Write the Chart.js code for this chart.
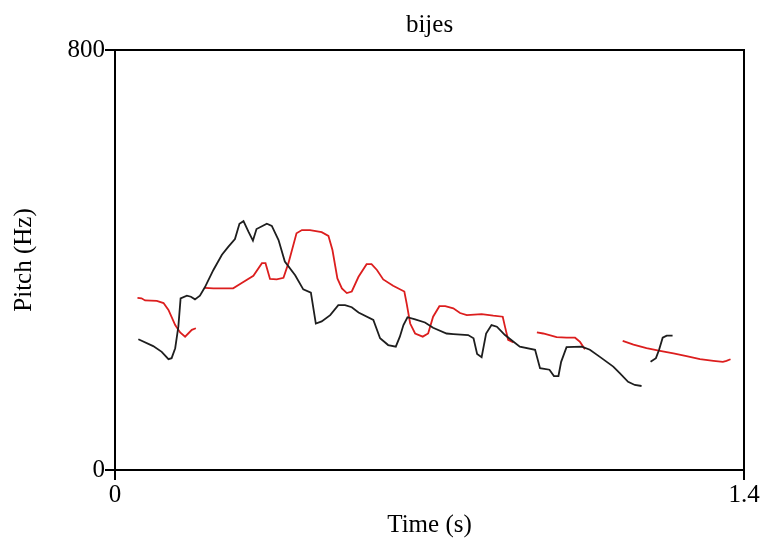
<!DOCTYPE html>
<html>
<head>
<meta charset="utf-8">
<script src="https://cdn.jsdelivr.net/npm/chart.js@4"></script>
<style>
  html, body { margin: 0; padding: 0; background: #fff; }
  #wrap { width: 766px; height: 543px; }
</style>
</head>
<body>
<div id="wrap"><canvas id="chart"></canvas></div>
<script>
// pitch tracks (time in s, pitch in Hz)
const blackTime1 = [0.052, 0.085, 0.104, 0.119, 0.126, 0.134, 0.141, 0.146, 0.160, 0.169, 0.178, 0.189, 0.200, 0.219, 0.238, 0.252, 0.267, 0.277, 0.286, 0.297, 0.307, 0.315, 0.338, 0.349, 0.364, 0.378, 0.401, 0.419, 0.436, 0.447, 0.460, 0.479, 0.497, 0.512, 0.527, 0.542, 0.575, 0.590, 0.608, 0.625, 0.634, 0.642, 0.651, 0.668, 0.690, 0.708, 0.738, 0.753, 0.786, 0.798, 0.806, 0.816, 0.826, 0.838, 0.850, 0.868, 0.901, 0.935, 0.946, 0.967, 0.977, 0.987, 0.993, 1.005, 1.039, 1.057, 1.080, 1.109, 1.124, 1.142, 1.157, 1.172];
const blackPitch1 = [249, 236, 225, 211, 213, 232, 273, 327, 332, 330, 325, 332, 348, 381, 410, 425, 440, 469, 474, 454, 437, 459, 469, 465, 438, 397, 371, 344, 338, 279, 283, 295, 314, 314, 310, 300, 286, 251, 238, 235, 254, 276, 291, 287, 281, 271, 260, 259, 257, 251, 221, 215, 260, 276, 273, 257, 235, 229, 194, 191, 179, 179, 206, 234, 235, 229, 215, 197, 184, 168, 162, 160];
const blackTime2 = [1.192, 1.204, 1.211, 1.219, 1.228, 1.241];
const blackPitch2 = [206, 213, 229, 252, 256, 256];

const redTime1 = [0.050, 0.059, 0.067, 0.093, 0.108, 0.119, 0.134, 0.145, 0.156, 0.171, 0.180];
const redPitch1 = [328, 327, 323, 322, 318, 305, 276, 262, 254, 267, 270];
const redTime2 = [0.200, 0.219, 0.263, 0.282, 0.308, 0.327, 0.335, 0.345, 0.360, 0.375, 0.386, 0.404, 0.416, 0.434, 0.460, 0.475, 0.484, 0.495, 0.505, 0.516, 0.527, 0.542, 0.560, 0.571, 0.583, 0.597, 0.619, 0.644, 0.649, 0.657, 0.668, 0.685, 0.697, 0.708, 0.722, 0.735, 0.753, 0.768, 0.783, 0.816, 0.842, 0.863, 0.868, 0.875, 0.887];
const redPitch2 = [347, 346, 346, 356, 370, 394, 394, 364, 363, 366, 394, 451, 457, 457, 453, 446, 419, 365, 346, 337, 340, 368, 392, 392, 381, 363, 351, 340, 318, 279, 260, 254, 260, 292, 312, 312, 308, 299, 295, 297, 294, 292, 273, 248, 243];
const redTime3 = [0.939, 0.953, 0.983, 1.005, 1.024, 1.035, 1.046];
const redPitch3 = [262, 260, 253, 252, 252, 244, 230];
const redTime4 = [1.130, 1.154, 1.183, 1.213, 1.243, 1.272, 1.302, 1.332, 1.353, 1.361, 1.370];
const redPitch4 = [246, 239, 232, 227, 222, 217, 211, 208, 206, 208, 211];

const xTicks = [0, 1.4];
const yTicks = [0, 800];

const serif = 'Liberation Serif';

function seg(times, pitches, color) {
    return {
        data: times.map((t, i) => ({ x: t, y: pitches[i] })),
        borderColor: color,
        borderWidth: 1.8,
        pointRadius: 0,
        showLine: true,
        tension: 0,
        fill: false
    };
}

// frame round the plot area
const frame = {
    id: 'frame',
    afterDatasetsDraw(chart) {
        const a = chart.chartArea;
        const c = chart.ctx;
        c.save();
        c.strokeStyle = '#000';
        c.lineWidth = 2;
        c.strokeRect(a.left, a.top, a.right - a.left, a.bottom - a.top);
        c.restore();
    }
};

new Chart(document.getElementById('chart'), {
    type: 'scatter',
    data: {
        datasets: [
            seg(blackTime1, blackPitch1, '#1e1e1e'),
            seg(blackTime2, blackPitch2, '#1e1e1e'),
            seg(redTime1, redPitch1, '#dc1e1e'),
            seg(redTime2, redPitch2, '#dc1e1e'),
            seg(redTime3, redPitch3, '#dc1e1e'),
            seg(redTime4, redPitch4, '#dc1e1e')
        ]
    },
    options: {
        responsive: true,
        maintainAspectRatio: false,
        animation: false,
        layout: { padding: { left: 0, right: 22, top: 0, bottom: 0 } },
        scales: {
            x: {
                type: 'linear',
                min: 0,
                max: 1.4,
                afterBuildTicks: scale => { scale.ticks = xTicks.map(v => ({ value: v })); },
                afterFit: scale => { scale.height = 73; },
                ticks: {
                    color: '#000',
                    padding: 0,
                    maxRotation: 0,
                    autoSkip: false,
                    font: { family: serif, size: 25 },
                    callback: v => String(v)
                },
                grid: { drawOnChartArea: false, tickLength: 10, color: '#000', lineWidth: 2 },
                border: { display: true, color: '#000', width: 2 },
                title: {
                    display: true,
                    text: 'Time (s)',
                    color: '#000',
                    font: { family: serif, size: 25 },
                    padding: { top: 0, bottom: 3 }
                }
            },
            y: {
                type: 'linear',
                min: 0,
                max: 800,
                afterBuildTicks: scale => { scale.ticks = yTicks.map(v => ({ value: v })); },
                afterFit: scale => { scale.width = 115; },
                ticks: {
                    color: '#000',
                    padding: 0,
                    autoSkip: false,
                    font: { family: serif, size: 25 },
                    callback: v => String(v)
                },
                grid: { drawOnChartArea: false, tickLength: 10, color: '#000', lineWidth: 2 },
                border: { display: true, color: '#000', width: 2 },
                title: {
                    display: true,
                    text: 'Pitch (Hz)',
                    color: '#000',
                    font: { family: serif, size: 25 },
                    padding: { top: 9, bottom: 0 }
                }
            }
        },
        plugins: {
            legend: { display: false },
            tooltip: { enabled: false },
            title: {
                display: true,
                text: 'bijes',
                fullSize: false,
                color: '#000',
                font: { family: serif, size: 25, weight: 'normal' },
                padding: { top: 10, bottom: 10 }
            }
        }
    },
    plugins: [frame]
});
</script>
</body>
</html>
